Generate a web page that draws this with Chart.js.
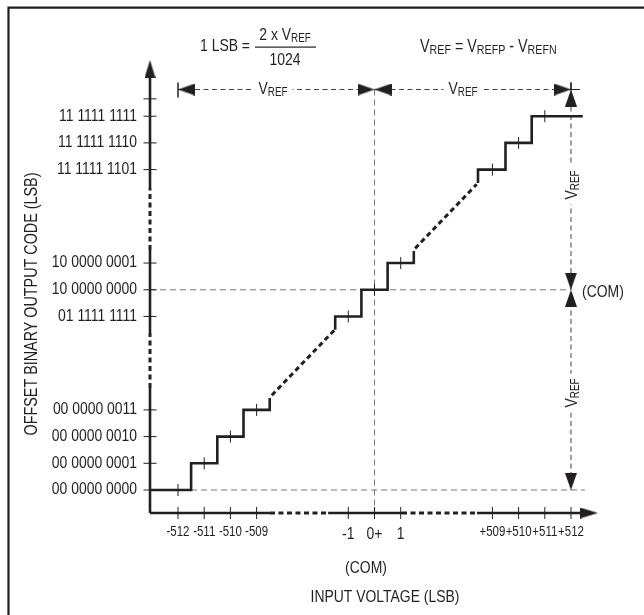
<!DOCTYPE html>
<html><head><meta charset="utf-8">
<script src="https://cdn.jsdelivr.net/npm/chart.js@4"></script>
<style>html,body{margin:0;padding:0;background:#fff}#wrap{position:relative;width:644px;height:615px}</style>
</head><body><div id="wrap"><canvas id="c"></canvas></div>
<script>
// ---------- data (schematic units: one unit = one LSB step; the axes are broken) ----------
const xTickLabels = ['-512','-511','-510','-509','-1','0+','1','+509','+510','+511','+512'];
const xTickPos    = [0, 1, 2, 3, 6.5, 7.5, 8.5, 12, 13, 14, 15];
const yTickLabels = ['00 0000 0000','00 0000 0001','00 0000 0010','00 0000 0011',
                     '01 1111 1111','10 0000 0000','10 0000 0001',
                     '11 1111 1101','11 1111 1110','11 1111 1111'];
const yTickPos    = [0, 1, 2, 3, 6.5, 7.5, 8.5, 12, 13, 14];
// output codes drawn in each group of the transfer function (tread centre, code level)
const lowCodesX  = [0, 1, 2, 3];     const lowCodesY  = [0, 1, 2, 3];
const midCodesX  = [6.5, 7.5, 8.5];  const midCodesY  = [6.5, 7.5, 8.5];
const highCodesX = [12, 13, 14];     const highCodesY = [12, 13, 14];
const comLevel = 7.5;      // (COM) code / input
const fullScale = 15;      // +512 LSB / dimension-line level

// ---------- layout ----------
const X_MIN = -1.069, X_MAX = 16.107, Y_MIN = -0.861, Y_MAX = 16.105;
const xAxisBreaks = [[3.51, 5.73], [8.55, 11.41]];
const yAxisBreaks = [[3.82, 5.88], [8.99, 11.31]];
const F = "'Liberation Sans Narrow','Arial Narrow','Liberation Sans',Arial,sans-serif";
const K = 0.82;   // horizontal condensing (narrow face look)
const INK = '#231f20', GREY = '#77787b', DIM = '#414042';
Chart.defaults.font.family = F;
Chart.defaults.color = INK;

function makeArrow(w, len) {
  const c = document.createElement('canvas');
  c.width = w; c.height = len * 2;
  const g = c.getContext('2d');
  g.fillStyle = INK; g.beginPath();
  g.moveTo(w / 2, len); g.lineTo(w, 2 * len); g.lineTo(0, 2 * len); g.closePath(); g.fill();
  return c;
}
const ARROW = makeArrow(12, 17);
const ARROW_AX = makeArrow(11, 18);

const DS = [];
function line(pts, o) {
  DS.push(Object.assign({ data: pts, showLine: true, pointRadius: 0, pointHoverRadius: 0,
    borderColor: INK, borderWidth: 1, fill: false, clip: false, tension: 0 }, o));
}
function marks(pts, o) {
  DS.push(Object.assign({ data: pts, showLine: false, clip: false, pointRadius: 6, pointHoverRadius: 6,
    pointStyle: 'line', pointBorderColor: INK, pointBackgroundColor: INK, pointBorderWidth: 1 }, o));
}
function stairs(cx, cy, startX, endX, riseFrom, riseTo) {
  const p = [];
  if (riseFrom !== null) p.push({ x: startX, y: riseFrom });
  for (let i = 0; i < cx.length; i++) {
    const l = i === 0 ? startX : (cx[i - 1] + cx[i]) / 2;
    const r = i === cx.length - 1 ? endX : (cx[i] + cx[i + 1]) / 2;
    p.push({ x: l, y: cy[i] }, { x: r, y: cy[i] });
  }
  if (riseTo !== null) p.push({ x: endX, y: riseTo });
  return p;
}
function solidParts(min, max, breaks) {
  const out = []; let a = min;
  for (const [b0, b1] of breaks) { out.push([a, b0]); a = b1; }
  out.push([a, max]); return out;
}

// reference dashed lines (grey)
const greyDash = { borderColor: GREY, borderWidth: 1, borderDash: [6, 4] };
line([{ x: X_MIN, y: comLevel }, { x: fullScale, y: comLevel }], greyDash);
line([{ x: 0.5, y: 0 }, { x: fullScale + 0.53, y: 0 }], greyDash);
line([{ x: comLevel, y: fullScale }, { x: comLevel, y: Y_MIN }], greyDash);
// dimension lines
const dimDash = { borderColor: DIM, borderWidth: 1, borderDash: [5, 3.5] };
line([{ x: xTickPos[0], y: fullScale }, { x: fullScale, y: fullScale }], dimDash);
line([{ x: fullScale, y: fullScale }, { x: fullScale, y: 0 }], dimDash);
line([{ x: fullScale, y: fullScale }, { x: fullScale + 0.34, y: fullScale }], { borderColor: INK });
line([{ x: fullScale, y: fullScale + 0.26 }, { x: fullScale, y: fullScale }], { borderColor: INK });
marks([{ x: xTickPos[0], y: fullScale - 0.02 }], { pointRadius: 7.5, pointRotation: 90, pointBorderWidth: 1.5 });
// axes
for (const [a, b] of solidParts(X_MIN, 15.8, xAxisBreaks)) line([{ x: a, y: Y_MIN }, { x: b, y: Y_MIN }], { borderWidth: 2.6 });
for (const [a, b] of xAxisBreaks) line([{ x: a, y: Y_MIN }, { x: b, y: Y_MIN }], { borderWidth: 3, borderDash: [5, 3.5] });
for (const [a, b] of solidParts(Y_MIN, 15.6, yAxisBreaks)) line([{ x: X_MIN, y: a }, { x: X_MIN, y: b }], { borderWidth: 2.6 });
for (const [a, b] of yAxisBreaks) line([{ x: X_MIN, y: a }, { x: X_MIN, y: b }], { borderWidth: 3, borderDash: [5, 3.5] });
// transfer function
const stairStyle = { borderWidth: 2.6, borderJoinStyle: 'miter' };
line(stairs(lowCodesX, lowCodesY, X_MIN, 3.5, null, 3.45), stairStyle);
line(stairs(midCodesX, midCodesY, 6.0, 9.0, 6.0, 8.95), stairStyle);
line(stairs(highCodesX, highCodesY, 11.45, 15.45, 11.5, null), stairStyle);
const diagStyle = { borderWidth: 3, borderDash: [5, 3.5] };
line([{ x: 3.58, y: 3.55 }, { x: 5.98, y: 6.0 }], diagStyle);
line([{ x: 9.05, y: 9.05 }, { x: 11.4, y: 11.45 }], diagStyle);
// tick marks
const codeX = lowCodesX.concat(midCodesX, highCodesX), codeY = lowCodesY.concat(midCodesY, highCodesY);
marks(codeX.map((x, i) => ({ x, y: codeY[i] })), { pointRotation: 90 });
marks(xTickPos.map(x => ({ x, y: Y_MIN })), { pointRotation: 90 });
marks(yTickPos.concat([14.65]).map(y => ({ x: X_MIN, y })), { pointRotation: 0, pointRadius: 6.5 });
// arrowheads
marks([{ x: xTickPos[0], y: fullScale, r: 270 }, { x: comLevel, y: fullScale, r: 90 },
       { x: comLevel, y: fullScale, r: 270 }, { x: fullScale, y: fullScale, r: 90 },
       { x: fullScale, y: fullScale, r: 0 }, { x: fullScale, y: comLevel, r: 180 },
       { x: fullScale, y: comLevel, r: 0 }, { x: fullScale, y: 0, r: 180 }],
      { pointStyle: ARROW, pointRadius: 1, pointRotation: c => c.raw.r });
marks([{ x: X_MIN, y: Y_MAX, r: 0 }, { x: 16.03, y: Y_MIN, r: 90 }],
      { pointStyle: ARROW_AX, pointRadius: 1, pointRotation: c => c.raw.r });
DS.reverse();

// condense axis tick labels horizontally (canvas maxWidth)
function condense(s, k) {
  if (s.__condensed || typeof s._computeLabelItems !== 'function') return;
  s.__condensed = true;
  const orig = s._computeLabelItems;
  s._computeLabelItems = function (area) {
    const items = orig.call(this, area);
    const g = this.ctx;
    for (const it of items) {
      g.save(); g.font = it.font.string;
      it.options.maxWidth = g.measureText(String(it.label)).width * k;
      g.restore();
    }
    return items;
  };
}

// ---------- text helpers ----------
function drawRuns(g, parts, x, y, size, align, box) {
  const sized = parts.map(([t, sub]) => {
    const s = sub ? Math.round(size * 0.72) : size;
    g.font = s + 'px ' + F;
    return { t, sub, s, w: g.measureText(t).width * K };
  });
  const w = sized.reduce((a, r) => a + r.w, 0);
  let cx = align === 'center' ? x - w / 2 : align === 'right' ? x - w : x;
  if (box) { g.save(); g.fillStyle = '#fff'; g.fillRect(cx - 5, y - size * 0.6, w + 10, size * 1.3); g.restore(); }
  g.textBaseline = 'middle'; g.textAlign = 'left';
  for (const r of sized) {
    g.font = r.s + 'px ' + F;
    g.fillText(r.t, cx, r.sub ? y + size * 0.2 : y, r.w);
    cx += r.w;
  }
}
const VREF = [['V', 0], ['REF', 1]];
const notes = {
  id: 'notes',
  beforeDraw(chart) {
    const g = chart.ctx; g.save(); g.strokeStyle = INK; g.lineWidth = 2.2;
    g.beginPath(); g.moveTo(8.5, 615); g.lineTo(8.5, 7.7); g.lineTo(644, 7.7); g.stroke(); g.restore();
  },
  afterDatasetsDraw(chart) {
    const g = chart.ctx; g.save(); g.fillStyle = INK;
    drawRuns(g, [['1 LSB =', 0]], 250, 46, 17, 'right');
    drawRuns(g, [['2 x V', 0], ['REF', 1]], 285, 35, 17, 'center');
    g.fillRect(255, 46.5, 61, 1.2);
    drawRuns(g, [['1024', 0]], 285, 60, 17, 'center');
    drawRuns(g, [['V', 0], ['REF', 1], [' = V', 0], ['REFP', 1], [' - V', 0], ['REFN', 1]], 420, 47, 17.5, 'left');
    drawRuns(g, VREF, 273, 89, 17, 'center', true);
    drawRuns(g, VREF, 463, 89, 17, 'center', true);
    for (const cy of [185, 393]) {
      g.save(); g.translate(572, cy); g.rotate(-Math.PI / 2);
      drawRuns(g, VREF, 0, 0, 17, 'center', true); g.restore();
    }
    drawRuns(g, [['(COM)', 0]], 582, 292, 17, 'left');
    drawRuns(g, [['(COM)', 0]], 366, 568, 17, 'center');
    drawRuns(g, [['INPUT VOLTAGE (LSB)', 0]], 385, 597, 17, 'center');
    g.save(); g.translate(32, 304); g.rotate(-Math.PI / 2);
    drawRuns(g, [['OFFSET BINARY OUTPUT CODE (LSB)', 0]], 0, 0, 17.5, 'center'); g.restore();
    g.restore();
  }
};

new Chart(document.getElementById('c'), {
  type: 'scatter',
  data: { datasets: DS },
  options: {
    responsive: true, maintainAspectRatio: false, animation: false, events: [],
    layout: { padding: { top: 60, right: 44, left: 0, bottom: 0 } },
    plugins: { legend: { display: false }, tooltip: { enabled: false } },
    scales: {
      x: {
        type: 'linear', min: X_MIN, max: X_MAX,
        grid: { display: false, drawTicks: false }, border: { display: false },
        afterBuildTicks: s => { s.ticks = xTickPos.map(v => ({ value: v })); },
        afterFit: s => { s.height = 102; condense(s, K); },
        ticks: { padding: 11, autoSkip: false, maxRotation: 0, color: INK,
          callback: (v, i) => xTickLabels[i],
          font: c => ({ family: F, size: (c.index >= 4 && c.index <= 6) ? 17 : 14 }) }
      },
      y: {
        type: 'linear', min: Y_MIN, max: Y_MAX,
        grid: { display: false, drawTicks: false }, border: { display: false },
        afterBuildTicks: s => { s.ticks = yTickPos.map(v => ({ value: v })); },
        afterFit: s => { s.width = 150; condense(s, 0.87); },
        ticks: { padding: 13, autoSkip: false, color: INK,
          callback: (v, i) => yTickLabels[i], font: { family: F, size: 16 } }
      }
    }
  },
  plugins: [notes]
});
</script>
</body></html>
